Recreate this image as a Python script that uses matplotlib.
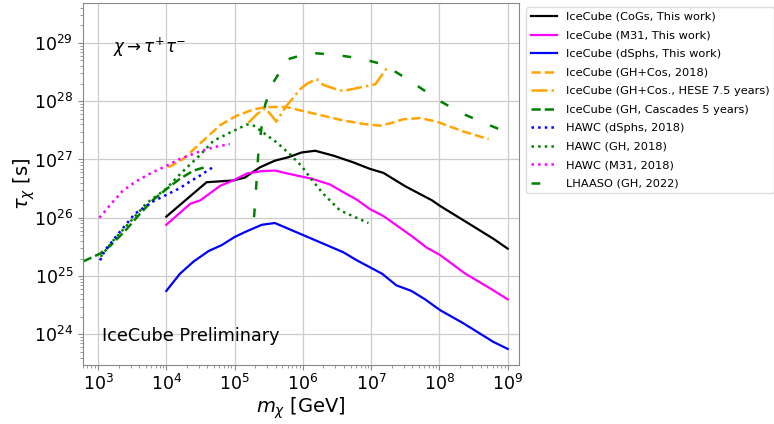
import numpy as np
import matplotlib
matplotlib.use('Agg')
import matplotlib.pyplot as plt

# limits, stored as log10(m / GeV) and log10(tau / s)
cogs_logm = [4.0, 4.59, 4.98, 5.15, 5.37, 5.59, 5.79, 5.98, 6.18, 6.45, 6.74,
             6.98, 7.18, 7.50, 7.89, 8.0, 8.5, 8.79, 9.0]
cogs_logt = [26.02, 26.61, 26.64, 26.69, 26.865, 26.98, 27.04, 27.12, 27.15,
             27.065, 26.95, 26.84, 26.77, 26.54, 26.30, 26.21, 25.85, 25.64, 25.47]

m31_logm = [4.0, 4.35, 4.50, 4.79, 4.98, 5.18, 5.40, 5.59, 5.81, 6.13, 6.40,
            6.59, 6.79, 6.98, 7.18, 7.60, 7.81, 8.01, 8.38, 8.74, 9.0]
m31_logt = [25.88, 26.24, 26.30, 26.55, 26.64, 26.76, 26.80, 26.81, 26.75,
            26.67, 26.57, 26.44, 26.31, 26.15, 26.03, 25.68, 25.49, 25.36,
            25.04, 24.79, 24.60]

dsph_logm = [4.0, 4.2, 4.40, 4.62, 4.81, 5.0, 5.18, 5.40, 5.59, 6.01, 6.35,
             6.59, 6.79, 7.16, 7.37, 7.59, 7.79, 8.01, 8.35, 8.79, 9.0]
dsph_logt = [24.745, 25.04, 25.25, 25.43, 25.53, 25.67, 25.77, 25.88, 25.91,
             25.70, 25.53, 25.41, 25.27, 25.04, 24.84, 24.745, 24.60, 24.415,
             24.19, 23.87, 23.75]

ghcos_logm = [4.03, 4.25, 4.49, 4.79, 5.03, 5.28, 5.47, 5.76, 6.01, 6.30,
              6.59, 6.89, 7.13, 7.28, 7.47, 7.72, 7.96, 8.35, 8.72]
ghcos_logt = [26.865, 27.01, 27.27, 27.59, 27.75, 27.86, 27.90, 27.90, 27.83,
              27.75, 27.67, 27.61, 27.58, 27.62, 27.69, 27.71, 27.65, 27.48, 27.35]

hese_logm = [5.20, 5.33, 5.45, 5.545, 5.61, 5.76, 5.96, 6.06, 6.20, 6.30,
             6.45, 6.59, 7.06, 7.25]
hese_logt = [27.63, 27.78, 27.88, 27.75, 27.65, 27.92, 28.205, 28.30, 28.38,
             28.28, 28.22, 28.175, 28.29, 28.60]

casc_logm = [2.78, 3.03, 3.18, 3.40, 3.60, 3.80, 4.0, 4.2, 4.4, 4.57]
casc_logt = [25.25, 25.385, 25.52, 25.78, 26.05, 26.30, 26.49, 26.67, 26.81, 26.87]

hawc_dsph_logm = [3.03, 3.10, 3.30, 3.54, 3.79, 4.03, 4.20, 4.37, 4.45, 4.71]
hawc_dsph_logt = [25.27, 25.44, 25.73, 26.07, 26.27, 26.41, 26.51, 26.64, 26.69, 26.89]

hawc_gh_logm = [3.04, 3.20, 3.47, 3.71, 4.0, 4.21, 4.48, 4.69, 4.93, 5.18,
                5.28, 5.42, 5.62, 5.81, 5.98, 6.105, 6.30, 6.545, 6.96]
hawc_gh_logt = [25.33, 25.58, 25.93, 26.25, 26.50, 26.76, 27.06, 27.32, 27.46,
                27.60, 27.58, 27.46, 27.29, 27.09, 26.89, 26.69, 26.41, 26.125, 25.91]

hawc_m31_logm = [3.02, 3.20, 3.36, 3.55, 3.78, 4.0, 4.20, 4.45, 4.69, 4.93]
hawc_m31_logt = [26.0, 26.25, 26.46, 26.62, 26.77, 26.89, 27.01, 27.12, 27.21, 27.265]

lhaaso_logm = [5.285, 5.32, 5.35, 5.40, 5.45, 5.57, 5.78, 6.10, 6.45, 6.84,
               7.18, 7.42, 7.72, 8.01, 8.35, 8.69, 9.0]
lhaaso_logt = [26.01, 26.60, 27.15, 27.60, 27.95, 28.33, 28.72, 28.83, 28.80,
               28.735, 28.63, 28.46, 28.23, 28.0, 27.78, 27.61, 27.46]

x_ticks = [1e3, 1e4, 1e5, 1e6, 1e7, 1e8, 1e9]
y_ticks = [1e24, 1e25, 1e26, 1e27, 1e28, 1e29]


def draw(ax, logm, logt, **kw):
    ax.plot(10 ** np.array(logm), 10 ** np.array(logt), **kw)


fig = plt.figure(figsize=(7.74, 4.24), dpi=100)
ax = fig.add_axes([0.107, 0.140, 0.5635, 0.8536])

draw(ax, cogs_logm, cogs_logt, color='black', lw=1.6, label='IceCube (CoGs, This work)')
draw(ax, m31_logm, m31_logt, color='magenta', lw=1.6, label='IceCube (M31, This work)')
draw(ax, dsph_logm, dsph_logt, color='blue', lw=1.6, label='IceCube (dSphs, This work)')
draw(ax, ghcos_logm, ghcos_logt, color='orange', lw=1.8, ls='--',
     label='IceCube (GH+Cos, 2018)')
draw(ax, hese_logm, hese_logt, color='orange', lw=1.8, ls='-.',
     label='IceCube (GH+Cos., HESE 7.5 years)')
draw(ax, casc_logm, casc_logt, color='green', lw=1.8, ls='--',
     label='IceCube (GH, Cascades 5 years)')
draw(ax, hawc_dsph_logm, hawc_dsph_logt, color='blue', lw=1.8, ls=':',
     label='HAWC (dSphs, 2018)')
draw(ax, hawc_gh_logm, hawc_gh_logt, color='green', lw=1.8, ls=':',
     label='HAWC (GH, 2018)')
draw(ax, hawc_m31_logm, hawc_m31_logt, color='magenta', lw=1.8, ls=':',
     label='HAWC (M31, 2018)')
draw(ax, lhaaso_logm, lhaaso_logt, color='green', lw=1.8, ls=(0, (3.5, 7.5)),
     label='LHAASO (GH, 2022)')

ax.set_xscale('log')
ax.set_yscale('log')
ax.set_xticks(x_ticks)
ax.set_yticks(y_ticks)
ax.set_xlim(10 ** 2.777, 10 ** 9.165)
ax.set_ylim(10 ** 23.48, 10 ** 29.69)
ax.grid(True, which='major', color='#cccccc', lw=0.9)
for s in ax.spines.values():
    s.set_color('#888888')
ax.tick_params(which='both', colors='#888888', labelcolor='black', labelsize=12.5)

ax.set_xlabel(r'$m_\chi$ [GeV]', fontsize=14, labelpad=1)
ax.set_ylabel(r'$\tau_\chi$ [s]', fontsize=14, labelpad=-2)

ax.text(0.069, 0.878, r'$\chi \rightarrow \tau^{+}\tau^{-}$', transform=ax.transAxes,
        fontsize=12, va='center')
ax.text(0.0435, 0.066, 'IceCube Preliminary', transform=ax.transAxes,
        fontsize=12.7, va='baseline')

ax.legend(loc='upper left', bbox_to_anchor=(1.016, 0.987), borderaxespad=0,
          fontsize=8.2, handlelength=2.3, labelspacing=0.75, framealpha=1,
          edgecolor='#dddddd')

fig.savefig('out.png', dpi=100)
